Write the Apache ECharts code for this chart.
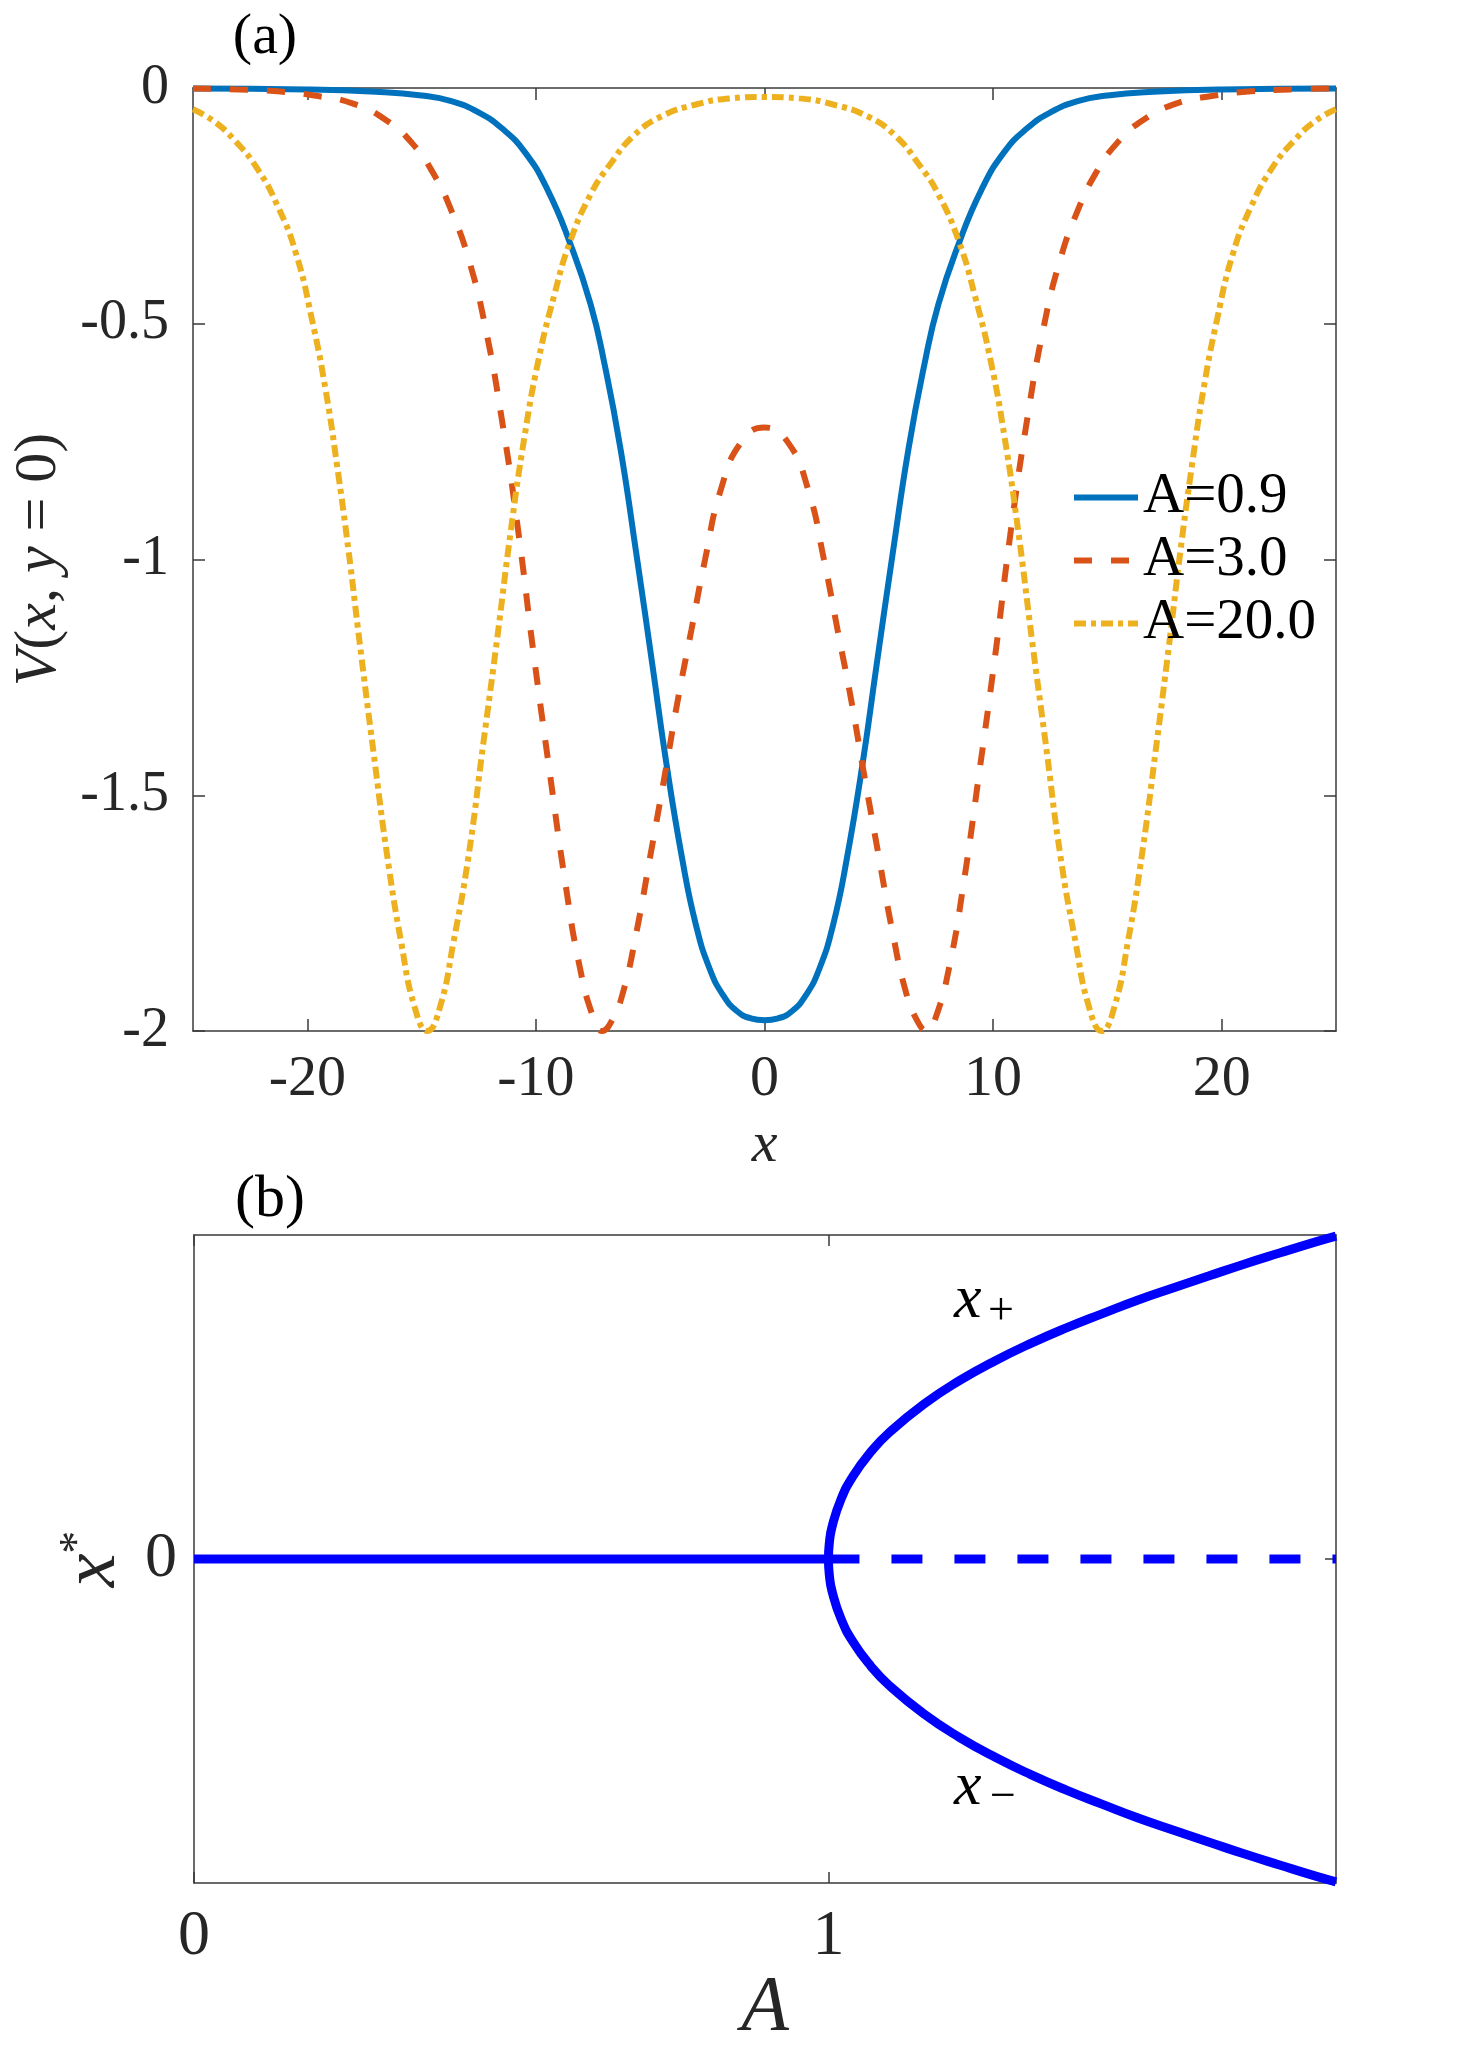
<!DOCTYPE html>
<html>
<head>
    <meta charset="utf-8">
    <title>V(x, y=0) and x*</title>
    <script src="https://cdn.jsdelivr.net/npm/echarts@6/dist/echarts.min.js"></script>
    <style>
        html, body { margin: 0; padding: 0; background: #fff; }
        #chartmain { width: 1479px; height: 2055px; }
    </style>
</head>
<body>
<div id="chartmain"></div>
<script type="text/javascript">
    // (a) potential along y = 0
    var x09 = [-25, -20, -17, -15, -13.7, -12.5, -11.5, -10.5, -9.5, -8.5, -7.6, -7.0, -6.3, -5.6, -4.9, -4.3, -3.6, -3.0, -2.4, -1.8, -1.2, -0.6,
        0, 0.6, 1.2, 1.8, 2.4, 3.0, 3.6, 4.3, 4.9, 5.6, 6.3, 7.0, 7.6, 8.5, 9.5, 10.5, 11.5, 12.5, 13.7, 15, 17, 20, 25];
    var v09 = [-0.001, -0.003, -0.008, -0.016, -0.028, -0.052, -0.085, -0.135, -0.215, -0.33, -0.46, -0.585, -0.765, -0.99, -1.225, -1.43, -1.635, -1.775, -1.868, -1.925, -1.958, -1.973,
        -1.977, -1.973, -1.958, -1.925, -1.868, -1.775, -1.635, -1.43, -1.225, -0.99, -0.765, -0.585, -0.46, -0.33, -0.215, -0.135, -0.085, -0.052, -0.028, -0.016, -0.008, -0.003, -0.001];

    var x30 = [-25, -23, -21.3, -19.7, -18, -16.5, -15.4, -14.5, -13.7, -12.9, -12.2, -11.5, -10.8, -10.1, -9.4, -8.7, -8.1, -7.5, -7.1, -6.7, -6.2, -5.6, -5.0, -4.3, -3.8, -3.2, -2.6, -1.9, -1.0,
        0, 1.0, 1.9, 2.6, 3.2, 3.8, 4.3, 5.0, 5.6, 6.2, 6.7, 7.1, 7.5, 8.1, 8.7, 9.4, 10.1, 10.8, 11.5, 12.2, 12.9, 13.7, 14.5, 15.4, 16.5, 18, 19.7, 21.3, 23, 25];
    var v30 = [-0.001, -0.003, -0.007, -0.016, -0.033, -0.07, -0.118, -0.18, -0.26, -0.37, -0.51, -0.70, -0.93, -1.2, -1.45, -1.69, -1.86, -1.97, -2.0, -1.98, -1.92, -1.79, -1.63, -1.44, -1.30, -1.15, -1.0, -0.85, -0.75,
        -0.72, -0.75, -0.85, -1.0, -1.15, -1.30, -1.44, -1.63, -1.79, -1.92, -1.98, -2.0, -1.97, -1.86, -1.69, -1.45, -1.2, -0.93, -0.70, -0.51, -0.37, -0.26, -0.18, -0.118, -0.07, -0.033, -0.016, -0.007, -0.003, -0.001];

    var x200 = [-25, -24.1, -23.2, -22.2, -21.3, -20.5, -19.8, -19.2, -18.7, -18.2, -17.7, -17.1, -16.5, -15.9, -15.3, -14.75, -14.2, -13.6, -12.95, -12.3, -11.7, -11.1, -10.5, -9.9, -9.2, -8.5, -7.6, -6.8, -5.7, -4.5, -3.0, -1.5,
        0, 1.5, 3.0, 4.5, 5.7, 6.8, 7.6, 8.5, 9.2, 9.9, 10.5, 11.1, 11.7, 12.3, 12.95, 13.6, 14.2, 14.75, 15.3, 15.9, 16.5, 17.1, 17.7, 18.2, 18.7, 19.2, 19.8, 20.5, 21.3, 22.2, 23.2, 24.1, 25];
    var v200 = [-0.045, -0.07, -0.11, -0.17, -0.25, -0.35, -0.49, -0.64, -0.80, -0.98, -1.18, -1.41, -1.63, -1.81, -1.95, -2.0, -1.95, -1.81, -1.63, -1.39, -1.17, -0.94, -0.74, -0.58, -0.44, -0.325, -0.225, -0.165, -0.10, -0.06, -0.035, -0.022,
        -0.019, -0.022, -0.035, -0.06, -0.10, -0.165, -0.225, -0.325, -0.44, -0.58, -0.74, -0.94, -1.17, -1.39, -1.63, -1.81, -1.95, -2.0, -1.95, -1.81, -1.63, -1.41, -1.18, -0.98, -0.80, -0.64, -0.49, -0.35, -0.25, -0.17, -0.11, -0.07, -0.045];

    var legendNames = ['A=0.9', 'A=3.0', 'A=20.0'];
    var xTicksA = [-20, -10, 0, 10, 20];
    var yTicksA = [0, -0.5, -1, -1.5, -2];

    // (b) fixed points against A
    var aStable = [0, 1];
    var aUnstable = [1, 1.8];
    var aBranch = [1, 1.0015, 1.0056, 1.0196, 1.039, 1.067, 1.095, 1.151, 1.207, 1.263, 1.319, 1.375, 1.431, 1.487, 1.543, 1.599, 1.655, 1.711, 1.768, 1.8];
    var xPlus = [0, 0.046, 0.089, 0.165, 0.231, 0.298, 0.350, 0.431, 0.496, 0.551, 0.599, 0.642, 0.681, 0.719, 0.753, 0.786, 0.819, 0.850, 0.881, 0.897];
    var xMinus = [0, -0.046, -0.089, -0.165, -0.231, -0.298, -0.350, -0.431, -0.496, -0.551, -0.599, -0.642, -0.681, -0.719, -0.753, -0.786, -0.819, -0.850, -0.881, -0.897];
    var xTicksB = [0, 1];
    var yTicksB = [0];

    var FONT = 'Liberation Serif';
    var INK = '#262626';
    var BOX = '#3a3a3a';

    function pairs(xs, ys) {
        var out = [];
        for (var i = 0; i < xs.length; i++) {
            out.push([xs[i], ys[i]]);
        }
        return out;
    }

    // upper branch reversed, through the vertex, then the lower branch
    var branchData = pairs(aBranch, xPlus).reverse().concat(pairs(aBranch, xMinus).slice(1));

    function frameAxis(grid, pos, min, max, ticks, tickLen) {
        return {
            type: 'value', gridIndex: grid, position: pos, min: min, max: max,
            axisLine: {show: true, onZero: false, lineStyle: {color: BOX, width: 1.5}},
            axisTick: {show: true, inside: true, length: tickLen, customValues: ticks, lineStyle: {color: BOX, width: 1.5}},
            axisLabel: {show: false},
            splitLine: {show: false}
        };
    }

    var myChart = echarts.init(document.getElementById('chartmain'));

    var option = {
        animation: false,
        backgroundColor: '#fff',
        grid: [
            {left: 193, top: 88, right: 143, bottom: 1024},
            {left: 194, top: 1235, right: 143, bottom: 172}
        ],
        legend: {
            data: legendNames,
            orient: 'vertical',
            left: 1066,
            top: 464,
            itemWidth: 64,
            itemHeight: 14,
            itemGap: 6,
            lineStyle: {width: 6},
            itemStyle: {opacity: 0},
            textStyle: {fontFamily: FONT, fontSize: 57, color: '#000', lineHeight: 52}
        },
        xAxis: [
            {
                type: 'value', gridIndex: 0, position: 'bottom', min: -25, max: 25,
                name: 'x', nameLocation: 'middle', nameGap: 86,
                nameTextStyle: {fontFamily: FONT, fontStyle: 'italic', fontSize: 58, color: INK},
                axisLine: {show: true, onZero: false, lineStyle: {color: BOX, width: 1.5}},
                axisTick: {show: true, inside: true, length: 12, customValues: xTicksA, lineStyle: {color: BOX, width: 1.5}},
                axisLabel: {customValues: xTicksA, margin: 20, fontFamily: FONT, fontSize: 58, color: INK},
                splitLine: {show: false}
            },
            frameAxis(0, 'top', -25, 25, xTicksA, 12),
            {
                type: 'value', gridIndex: 1, position: 'bottom', min: 0, max: 1.8,
                name: 'A', nameLocation: 'middle', nameGap: 84,
                nameTextStyle: {fontFamily: FONT, fontStyle: 'italic', fontSize: 78, color: INK},
                axisLine: {show: true, onZero: false, lineStyle: {color: BOX, width: 1.5}},
                axisTick: {show: true, inside: true, length: 11, customValues: xTicksB, lineStyle: {color: BOX, width: 1.5}},
                axisLabel: {customValues: xTicksB, margin: 22, fontFamily: FONT, fontSize: 64, color: INK},
                splitLine: {show: false}
            },
            frameAxis(1, 'top', 0, 1.8, xTicksB, 11)
        ],
        yAxis: [
            {
                type: 'value', gridIndex: 0, position: 'left', min: -2, max: 0,
                name: '{i|V}{r|(}{i|x}{r|, }{i|y}{r| = 0)}', nameLocation: 'middle', nameGap: 119, nameRotate: 90,
                nameTextStyle: {
                    color: INK,
                    rich: {
                        i: {fontFamily: FONT, fontStyle: 'italic', fontSize: 60, color: INK},
                        r: {fontFamily: FONT, fontSize: 60, color: INK}
                    }
                },
                axisLine: {show: true, onZero: false, lineStyle: {color: BOX, width: 1.5}},
                axisTick: {show: true, inside: true, length: 12, customValues: yTicksA, lineStyle: {color: BOX, width: 1.5}},
                axisLabel: {customValues: yTicksA, margin: 24, fontFamily: FONT, fontSize: 56, color: INK},
                splitLine: {show: false}
            },
            frameAxis(0, 'right', -2, 0, yTicksA, 12),
            {
                type: 'value', gridIndex: 1, position: 'left', min: -0.9, max: 0.9,
                name: '{i|x}{s|*}', nameLocation: 'middle', nameGap: 62, nameRotate: 90,
                nameTextStyle: {
                    color: INK,
                    rich: {
                        i: {fontFamily: FONT, fontStyle: 'italic', fontSize: 76, color: INK},
                        s: {fontFamily: FONT, fontSize: 46, color: INK, verticalAlign: 'top'}
                    }
                },
                axisLine: {show: true, onZero: false, lineStyle: {color: BOX, width: 1.5}},
                axisTick: {show: true, inside: true, length: 11, customValues: yTicksB, lineStyle: {color: BOX, width: 1.5}},
                axisLabel: {customValues: yTicksB, margin: 17, fontFamily: FONT, fontSize: 64, color: INK},
                splitLine: {show: false}
            },
            frameAxis(1, 'right', -0.9, 0.9, yTicksB, 11)
        ],
        graphic: [
            {type: 'text', x: 265, y: 38, style: {text: '(a)', font: '58px ' + FONT, fill: '#000', align: 'center', verticalAlign: 'middle'}},
            {type: 'text', x: 270, y: 1200, style: {text: '(b)', font: '60px ' + FONT, fill: '#000', align: 'center', verticalAlign: 'middle'}},
            {type: 'text', x: 954, y: 1301, style: {text: 'x', font: 'italic 62px ' + FONT, fill: '#000', verticalAlign: 'middle'}},
            {type: 'text', x: 988, y: 1312, style: {text: '+', font: '46px ' + FONT, fill: '#000', verticalAlign: 'middle'}},
            {type: 'text', x: 954, y: 1788, style: {text: 'x', font: 'italic 62px ' + FONT, fill: '#000', verticalAlign: 'middle'}},
            {type: 'text', x: 990, y: 1798, style: {text: '\u2212', font: '46px ' + FONT, fill: '#000', verticalAlign: 'middle'}}
        ],
        series: [
            {
                name: legendNames[0], type: 'line', xAxisIndex: 0, yAxisIndex: 0,
                data: pairs(x09, v09), symbol: 'none', smooth: 0.5,
                lineStyle: {color: '#0072BD', width: 6, type: 'solid'},
                itemStyle: {color: '#0072BD'}
            },
            {
                name: legendNames[1], type: 'line', xAxisIndex: 0, yAxisIndex: 0,
                data: pairs(x30, v30), symbol: 'none', smooth: 0.5,
                lineStyle: {color: '#D95319', width: 6, type: [18, 19]},
                itemStyle: {color: '#D95319'}
            },
            {
                name: legendNames[2], type: 'line', xAxisIndex: 0, yAxisIndex: 0,
                data: pairs(x200, v200), symbol: 'none', smooth: 0.5,
                lineStyle: {color: '#EDB120', width: 6, type: [12, 5, 5, 5]},
                itemStyle: {color: '#EDB120'}
            },
            {
                name: 'stable', type: 'line', xAxisIndex: 2, yAxisIndex: 2,
                data: pairs(aStable, [0, 0]), symbol: 'none',
                lineStyle: {color: '#0000FF', width: 9, type: 'solid'}
            },
            {
                name: 'unstable', type: 'line', xAxisIndex: 2, yAxisIndex: 2,
                data: pairs(aUnstable, [0, 0]), symbol: 'none',
                lineStyle: {color: '#0000FF', width: 9, type: [31, 32]}
            },
            {
                name: 'branches', type: 'line', xAxisIndex: 2, yAxisIndex: 2,
                data: branchData, symbol: 'none', smooth: 0.5,
                lineStyle: {color: '#0000FF', width: 9, type: 'solid'}
            }
        ]
    };

    myChart.setOption(option);
</script>
</body>
</html>
